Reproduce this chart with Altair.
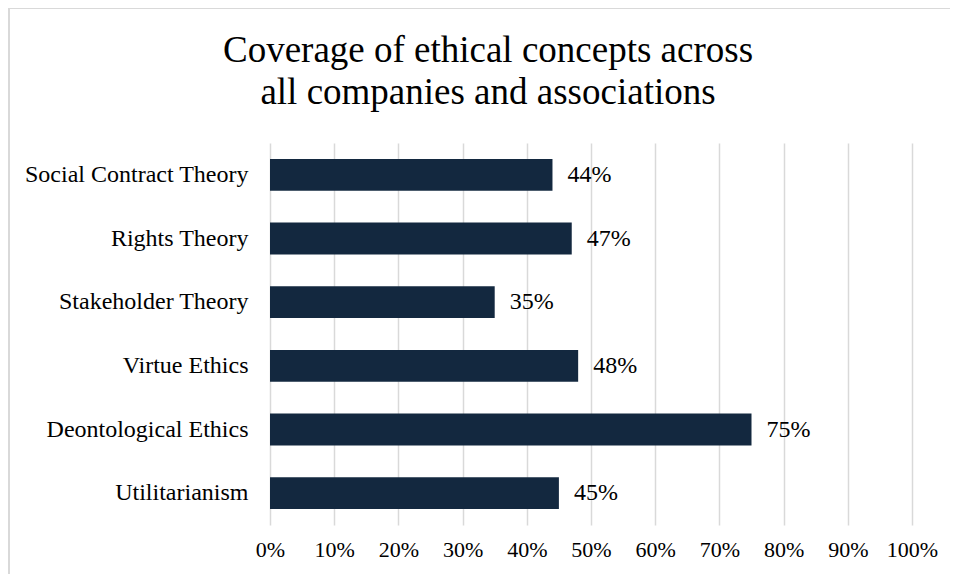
import altair as alt
import pandas as pd

categories = ["Social Contract Theory", "Rights Theory", "Stakeholder Theory",
              "Virtue Ethics", "Deontological Ethics", "Utilitarianism"]
values = [44, 47, 35, 48, 75, 45]
x_ticks = [0, 10, 20, 30, 40, 50, 60, 70, 80, 90, 100]
title_lines = ["Coverage of ethical concepts across", "all companies and associations"]

FONT = "Liberation Serif"
BAR = "#13283f"

df = pd.DataFrame({"concept": categories, "value": values})

x_enc = alt.X("value:Q",
              scale=alt.Scale(domain=[0, 100], nice=False),
              axis=alt.Axis(values=x_ticks, labelExpr="datum.value + '%'",
                            title=None, domain=False, ticks=False,
                            labelOverlap=False, labelFlush=False,
                            grid=True, gridColor="#d9d9d9", gridWidth=1.5,
                            labelFont=FONT, labelFontSize=22, labelColor="#000000",
                            labelPadding=14))
y_enc = alt.Y("concept:N", sort=categories,
              scale=alt.Scale(paddingInner=0.5, paddingOuter=0.25),
              axis=alt.Axis(title=None, domain=False, ticks=False, grid=False,
                            labelFont=FONT, labelFontSize=24, labelColor="#000000",
                            labelPadding=22, labelLimit=400))

bars = alt.Chart(df).mark_bar(color=BAR).encode(x=x_enc, y=y_enc)

labels = alt.Chart(df).transform_calculate(
    label="datum.value + '%'"
).mark_text(align="left", baseline="middle", dx=15, font=FONT, fontSize=24,
            color="#000000").encode(
    x=alt.X("value:Q"), y=alt.Y("concept:N", sort=categories), text="label:N")

one = pd.DataFrame({"a": [0]})

border = alt.Chart(one).mark_rect(
    fill=None, stroke="#d9d9d9", strokeWidth=2
).encode(x=alt.value(-261), x2=alt.value(720), y=alt.value(-135), y2=alt.value(460))

title = alt.Chart(one).mark_text(
    text=title_lines, font=FONT, fontSize=37, lineHeight=42, align="center",
    baseline="alphabetic", color="#000000"
).encode(x=alt.value(218), y=alt.value(-81))

chart = alt.layer(border, bars, labels, title).properties(
    width=642, height=382,
    autosize=alt.AutoSizeParams(type="none"),
    padding={"left": 262, "top": 135, "right": 38, "bottom": 49},
).configure_view(stroke=None)

chart.save("out.html", embed_options={"renderer": "svg", "actions": False})
